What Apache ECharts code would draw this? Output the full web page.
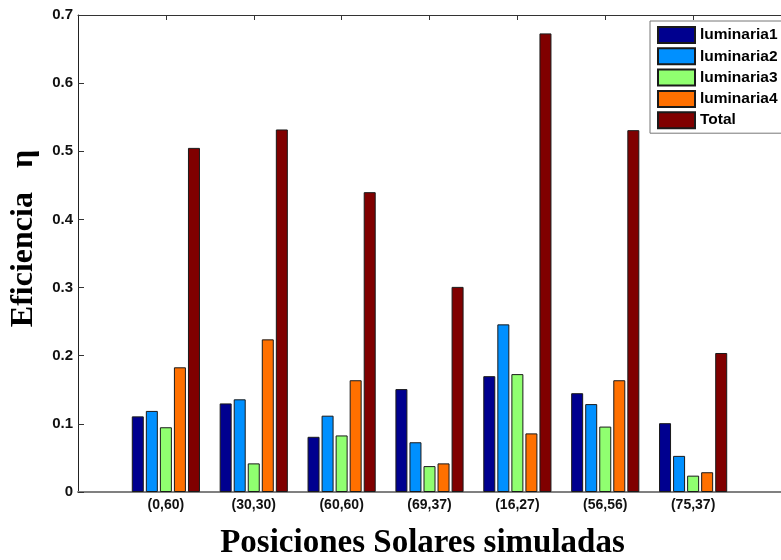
<!DOCTYPE html>
<html>
<head>
<meta charset="utf-8">
<script src="https://cdn.jsdelivr.net/npm/echarts@6/dist/echarts.min.js"></script>
<style>
  html, body { margin: 0; padding: 0; background: #fff; }
  #chart { width: 781px; height: 560px; }
</style>
</head>
<body>
<div id="chart"></div>
<script>
// posiciones solares
const categories = ['(0,60)', '(30,30)', '(60,60)', '(69,37)', '(16,27)', '(56,56)', '(75,37)'];
const seriesNames = ['luminaria1', 'luminaria2', 'luminaria3', 'luminaria4', 'Total'];
const luminaria1 = [0.111, 0.130, 0.081, 0.151, 0.170, 0.145, 0.101];
const luminaria2 = [0.119, 0.136, 0.112, 0.073, 0.246, 0.129, 0.053];
const luminaria3 = [0.095, 0.042, 0.083, 0.038, 0.173, 0.096, 0.024];
const luminaria4 = [0.183, 0.224, 0.164, 0.042, 0.086, 0.164, 0.029];
const total = [0.505, 0.532, 0.440, 0.301, 0.673, 0.531, 0.204];
const colors = ['#00008f', '#0090ff', '#90ff70', '#ff7000', '#800000'];

const allValues = [luminaria1, luminaria2, luminaria3, luminaria4, total];

var myChart = echarts.init(document.getElementById('chart'));

let series = [];
allValues.forEach((vals, i) => {
  series.push({
    name: seriesNames[i],
    type: 'bar',
    barWidth: 12,
    barGap: '17%',
    // x positions 1..7 on the value axis
    data: vals.map((v, k) => [k + 1, v]),
    itemStyle: { color: colors[i], borderColor: '#1a1a1a', borderWidth: 1 },
  });
});

myChart.setOption({
  animation: false,
  color: colors,
  grid: {
    left: 78,
    top: 15,
    right: 0,
    bottom: 68,
    show: false,
    containLabel: false,
    outerBoundsMode: 'none',
  },
  legend: {
    orient: 'vertical',
    left: 650,
    top: 21,
    icon: 'rect',
    itemWidth: 37,
    itemHeight: 16,
    itemGap: 3.3,
    padding: [5, 20, 4, 7],
    borderColor: '#777',
    borderWidth: 1,
    backgroundColor: '#fff',
    textStyle: { color: '#000', fontFamily: 'Liberation Sans, Arial', fontWeight: 'bold', fontSize: 15.5, lineHeight: 16 },
    data: seriesNames,
  },
  xAxis: [{
    type: 'value',
    min: 0,
    max: 8,
    interval: 1,
    position: 'bottom',
    axisLine: { show: true, lineStyle: { color: '#808080', width: 2 } },
    axisTick: { show: false },
    splitLine: { show: false },
    axisLabel: {
      color: '#111',
      fontFamily: 'Liberation Sans, Arial',
      fontWeight: 'bold',
      fontSize: 14,
      margin: 6,
      formatter: (v) => categories[v - 1] || '',
    },
    name: 'Posiciones Solares simuladas',
    nameLocation: 'middle',
    nameGap: 35,
    nameTextStyle: {
      color: '#000', fontFamily: 'Liberation Serif, Times New Roman', fontWeight: 'bold', fontSize: 33,
      padding: [0, 14, 0, 0],
    },
  }, {
    type: 'value',
    min: 0,
    max: 8,
    interval: 1,
    position: 'top',
    axisLine: { show: true, lineStyle: { color: '#333', width: 1 } },
    axisTick: {
      show: true, inside: true, length: 5, lineStyle: { color: '#333' },
      customValues: [1, 2, 3, 4, 5, 6, 7],
    },
    axisLabel: { show: false },
    splitLine: { show: false },
  }],
  yAxis: {
    type: 'value',
    min: 0,
    max: 0.7,
    interval: 0.1,
    axisLine: { show: true, lineStyle: { color: '#222', width: 1 } },
    axisTick: { show: true, inside: true, length: 6, lineStyle: { color: '#333' } },
    splitLine: { show: false },
    axisLabel: {
      color: '#111',
      fontFamily: 'Liberation Sans, Arial',
      fontWeight: 'bold',
      fontSize: 15,
      margin: 5,
      formatter: (v) => v === 0 ? '0' : v.toFixed(1),
    },
    name: 'Eficiencia   η',
    nameLocation: 'middle',
    nameGap: 38,
    nameRotate: 90,
    nameTextStyle: {
      color: '#000', fontFamily: 'Liberation Serif, Times New Roman', fontWeight: 'bold', fontSize: 32,
      padding: [0, 0, 0, 30],
    },
  },
  series: series,
});
</script>
</body>
</html>
